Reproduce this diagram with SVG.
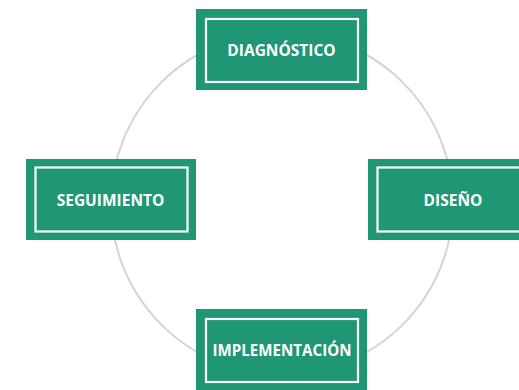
<svg xmlns="http://www.w3.org/2000/svg" width="519" height="390" viewBox="0 0 519 390">
<style>
.outer{fill:#1f9674;}
.inner{fill:none;stroke:#ffffff;stroke-width:2.2;}
.lbl{font-family:"Open Sans","Noto Sans","Liberation Sans",sans-serif;font-weight:bold;font-size:15.5px;fill:#ffffff;text-anchor:middle;}
.ring{fill:none;stroke:#d4d4d4;stroke-width:2;}
</style>
<rect width="519" height="390" fill="#ffffff"/>
<g id="connectors">
<circle class="ring" cx="282" cy="203.5" r="171"/>
</g>
<g id="diagnostico">
<rect class="outer" x="196" y="9" width="171" height="81"/>
<rect class="inner" x="206" y="19" width="152" height="63"/>
<text class="lbl" x="281.5" y="55.5">DIAGNÓSTICO</text>
</g>
<g id="seguimiento">
<rect class="outer" x="26" y="159" width="170" height="81"/>
<rect class="inner" x="35.5" y="167.5" width="152" height="64"/>
<text class="lbl" x="110.5" y="205.5">SEGUIMIENTO</text>
</g>
<g id="diseno">
<rect class="outer" x="368" y="159" width="171" height="81"/>
<rect class="inner" x="377.5" y="167.5" width="152" height="64"/>
<text class="lbl" x="453" y="205.5">DISEÑO</text>
</g>
<g id="implementacion">
<rect class="outer" x="196" y="309" width="171" height="81"/>
<rect class="inner" x="206" y="319" width="152" height="63"/>
<text class="lbl" x="282" y="355.5" textLength="139" lengthAdjust="spacingAndGlyphs">IMPLEMENTACIÓN</text>
</g>
</svg>
